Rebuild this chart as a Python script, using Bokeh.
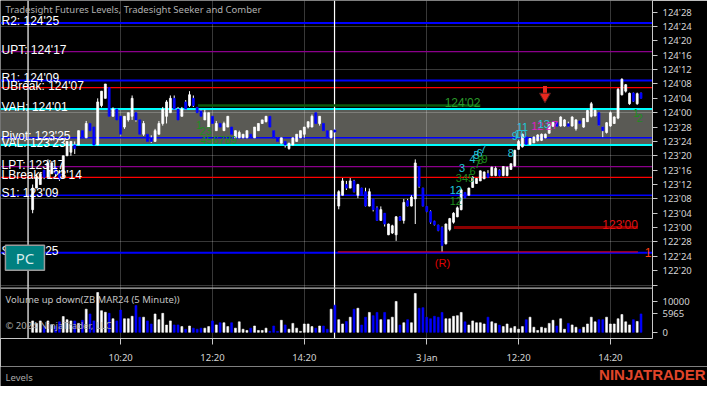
from bokeh.plotting import figure
from bokeh.layouts import column
from bokeh.models import Range1d, FixedTicker, Span, BoxAnnotation, Label, ColumnDataSource
from bokeh.embed import file_html
from bokeh.resources import INLINE
from bokeh.core.properties import value

# ---------------- data ----------------
# bar index (5-minute bars, two sessions), prices given in 32nds above 122'00
OPEN_32 = [
 37, 43, 44, 48, 46, 47, 49, 47, 46, 52,
 53, 55, 55, 59, 57, 61, 60, 55, 66, 68,
 71, 63, 65, 63, 60, 62, 63, 64, 62, 58,
 58, 57, 56, 58, 61, 63, 64, 68, 65, 63,
 67, 66, 68, 65.5, 64.5, 62, 60, 63, 59, 61,
 59, 60, 60, 57, 57, 57, 57, 58, 57, 59,
 61, 61.5, 63, 59, 57, 55.5, 56, 54, 55, 56,
 57, 58, 60, 60, 64, 61, 61, 59, 57, 59.2,
 38, 41, 44, 43, 45, 41, 43, 42, 38, 40,
 37.5, 34, 36, 30, 30.5, 30, 35, 34, 39.5, 38,
 40, 49, 43, 37.9, 36.5, 33.8, 32.7, 32, 27.5, 31.5,
 33.5, 35, 37, 41.8, 41, 43.2, 44.3, 45, 45.6, 47,
 46.5, 46.5, 48, 46.5, 46.5, 48.2, 49.2, 53.8, 54.5, 57.3,
 55.2, 55.6, 56.2, 56.3, 57, 58.3, 60.2, 61.3, 60.3, 60.3,
 60.9, 60.3, 59.5, 61.7, 60, 61.5, 63, 63.1, 64, 60,
 58.5, 60.3, 61, 62.5, 69, 70, 66.5, 69.5, 66.5, 69.5,
]
HIGH_32 = [
 44, 47, 47.5, 48, 51, 50.5, 49, 48, 52, 56,
 56, 56, 59, 59, 61.7, 61, 60, 68, 70, 72,
 71, 65.5, 65, 63, 63, 64, 68.8, 64, 62, 61.7,
 58, 57.7, 59.5, 61.7, 65.6, 67.5, 68.8, 68.8, 65.6, 65.6,
 67.5, 70, 68.8, 65.6, 64.8, 64.8, 64, 63, 61.7, 61,
 61.5, 63, 60, 59, 59, 58, 59, 58, 60, 61,
 62, 63, 63, 59, 57, 57, 56, 55.6, 57, 58,
 59, 60, 61.5, 63.5, 64, 63, 61, 59, 59, 59.5,
 42.4, 45.8, 45, 45.8, 45.3, 44.2, 43.1, 43.1, 42.9, 40,
 37.9, 37.9, 36, 33.1, 32.8, 35.2, 35.2, 40, 40, 41,
 51, 49, 43.1, 37.9, 36.8, 33.9, 32.8, 32.3, 33.1, 34.7,
 36.3, 37.9, 42.9, 41.8, 43.1, 46.3, 45.8, 47.9, 47.6, 48,
 49, 49, 48.2, 49, 49, 49.8, 53.7, 56.4, 58.2, 57.4,
 56.9, 57.4, 58, 58.2, 58.2, 60.9, 61.4, 61.4, 63, 62.2,
 61.5, 63, 62.2, 61.7, 62.5, 64.8, 67, 64.8, 64, 60.1,
 61.4, 64.3, 63, 70.9, 73.6, 72, 69.6, 69.6, 69.6, 69.6,
]
LOW_32 = [
 36, 43, 44, 45.5, 46, 47, 46, 45, 46, 52,
 52, 52.5, 55, 57, 57, 59, 55, 55, 65.5, 68,
 63, 63, 62, 57.7, 59.5, 61.5, 62, 61.5, 58, 57.5,
 56, 55.6, 56, 58, 60.4, 61, 64, 64.8, 62, 63,
 64.8, 65.6, 65.6, 64, 63, 62, 60, 60.9, 59, 60,
 59, 60, 58, 57, 57, 57, 57, 57, 57, 59,
 61, 61.3, 60, 57, 56, 55.5, 54.3, 53.7, 55, 56,
 57, 57, 59.6, 60, 61, 60.4, 59, 57, 57, 58.3,
 37.1, 41, 42.5, 43, 41.8, 40.2, 41, 37.9, 37.9, 36.5,
 33.9, 33.9, 32.3, 29.9, 30.2, 28.3, 33.9, 33.1, 37.9, 37.9,
 33, 43.1, 37.9, 36.3, 33.1, 32.6, 31, 25.2, 27.3, 31,
 33.1, 34.9, 36.8, 40.2, 41, 43.1, 44.2, 45, 45.5, 45.8,
 46.3, 46.3, 46.3, 46.3, 46.3, 48.2, 49, 53.7, 54.3, 55.1,
 55.1, 55.6, 56, 56.1, 56.9, 58.2, 60.1, 60.1, 60.1, 60.1,
 60.1, 60.1, 59, 60.9, 59.8, 61.4, 62.7, 63, 60.3, 57.2,
 58.2, 60.1, 60.9, 62.2, 68.8, 69.6, 66.2, 67, 66.2, 68,
]
CLOSE_32 = [
 43, 46, 47, 46, 50, 50, 47, 45.5, 52, 56,
 56, 54, 59, 57, 61, 59, 55, 67, 70, 72,
 63, 65, 62, 58, 63, 64, 68, 62, 58, 61,
 56, 56, 59, 61, 65, 67, 68, 65, 62, 65,
 65, 69, 66, 64, 63, 64, 64, 61, 61, 60,
 61, 63, 58, 59, 58.5, 58, 59, 57, 60, 61,
 62, 63, 60, 57, 56, 57, 55, 55.5, 57, 58,
 59, 60, 61.5, 63, 61, 63, 59, 57, 59, 58.6,
 42, 45, 43, 45, 42, 44, 41, 38, 42, 37,
 34, 37, 33, 33, 32.5, 35, 34, 39, 38, 40.5,
 50, 43.5, 38, 36.5, 33.5, 32.8, 31.2, 27, 33, 34.5,
 36, 37.5, 42.5, 40.3, 43, 46, 45.7, 47.8, 47.5, 46,
 48.8, 48.5, 46.5, 49, 48.8, 49.8, 53.5, 56, 58, 55.2,
 56.8, 57.2, 57.8, 58, 58, 60.7, 61.3, 60.2, 62.8, 62,
 60.2, 62.8, 62, 61, 62.4, 64.6, 66.5, 64.7, 60.5, 59,
 61.2, 64, 62.8, 70.5, 73.3, 71.8, 69.4, 67.2, 69.3, 68,
]
VOLUME = [
 3700, 2900, 3700, 2000, 3700, 2400, 2000, 3400, 5100, 4100,
 3700, 3700, 2900, 3900, 7500, 5950, 3700, 12900, 7000, 6500,
 6150, 4400, 3700, 7200, 4400, 4400, 5200, 8700, 4900, 4900,
 3700, 2700, 5950, 4100, 6150, 2350, 3700, 2400, 2400, 1850,
 1000, 2050, 1350, 1000, 1350, 1350, 1850, 3700, 2400, 3100,
 3100, 1850, 3100, 1350, 3400, 1000, 600, 1350, 2050, 600,
 600, 1350, 300, 2050, 300, 3900, 2400, 1000, 2900, 1350,
 300, 2700, 2700, 1850, 1350, 2050, 2050, 1000, 7500, 8800,
 4100, 2700, 3500, 4900, 7500, 7800, 2350, 4900, 6450, 5400,
 6450, 4100, 6450, 4100, 4900, 10000, 2350, 3100, 4100, 3100,
 12600, 7800, 8000, 4900, 4400, 5200, 4900, 6450, 4400, 4400,
 5200, 5400, 6450, 3400, 2350, 3700, 3100, 3100, 2700, 4900,
 3400, 2900, 2350, 1850, 2700, 1350, 1850, 1000, 1850, 4100,
 4900, 1650, 600, 1650, 1350, 2900, 3900, 2050, 4400, 1000,
 2900, 2400, 1650, 1000, 1650, 2700, 4900, 3400, 4100, 4100,
 4900, 2700, 2700, 4400, 5750, 3400, 2400, 4100, 3500, 5965,
]
BAR_INDEX = list(range(len(CLOSE_32)))

TIME_TICK_INDEX = [23, 47, 71, 103, 127, 151]
TIME_TICK_LABELS = ["10:20", "12:20", "14:20", "3 Jan", "12:20", "14:20"]
SESSION_BREAK_INDEX = [-1.2, 78.9]

PRICE_TICK_LABELS = ["124'28", "124'24", "124'20", "124'16", "124'12", "124'08", "124'04",
                     "124'00", "123'28", "123'24", "123'20", "123'16", "123'12", "123'08",
                     "123'04", "123'00", "122'28", "122'24", "122'20", "122'16"]
PRICE_TICK_HIDDEN = ["122'16"]
GRID_PRICE_LABELS = ["124'24", "124'12", "124'00", "123'20", "123'08", "122'28", "122'16"]
VOLUME_TICKS = [0, 10000]

LEVEL_NAMES = ["R2", "UPT", "R1", "UBreak", "VAH", "Pivot", "VAL", "LPT", "LBreak", "S1", "S2"]
LEVEL_PRICES = ["124'25", "124'17", "124'09", "124'07", "124'01", "123'25", "123'23",
                "123'17", "123'14", "123'09", "122'25"]
LEVEL_COLORS = ["#0000ff", "#8b008b", "#0000ff", "#ff0000", "#00ffff", "#0000ff", "#00ffff",
                "#8b008b", "#ff0000", "#0000ff", "#0000ff"]
LEVEL_WIDTHS = [2, 1.2, 2, 1.2, 2, 1.5, 2, 1.2, 1.2, 1.5, 2]

# Seeker / Comber counts: text, bar index, price (32nds), color
COUNT_TEXT = ["3", "4", "5", "6", "7", "6", "7", "8", "9", "345", "12", "12",
              "8", "9", "10", "11", "12", "13", "2", "7", "1", "2", "1", "23", "456789"]
COUNT_BAR = [112.2, 115.0, 116.0, 116.8, 117.8, 115.0, 116.3, 117.0, 118.1, 113.0, 110.6, 110.6,
             125.0, 126.0, 127.5, 128.0, 131.9, 133.6, 134.9, 136.5, 157.7, 158.7, 43.5, 45.2, 48.6]
COUNT_PRICE_32 = [48.7, 51.1, 52.1, 52.9, 54.0, 47.9, 49.8, 50.8, 51.1, 45.8, 42.4, 39.4,
                  52.9, 57.4, 58.2, 60.1, 60.3, 60.9, 60.3, 60.6, 64.0, 62.5, 60.6, 59.0, 56.4]
CYAN, GREEN, MAGENTA = "#22c8dc", "#1e8c1e", "#e020c8"
COUNT_COLOR = [CYAN, CYAN, CYAN, CYAN, CYAN, GREEN, GREEN, GREEN, GREEN, GREEN, CYAN, GREEN,
               CYAN, CYAN, CYAN, CYAN, MAGENTA, CYAN, MAGENTA, MAGENTA, GREEN, GREEN, GREEN, GREEN, GREEN]

SEEKER_LEVEL = "124'02"
SEEKER_BARS = [43.2, 117.0]
TARGET_LEVEL = "123'00"
TARGET_BARS = [110.1, 158.2]
SIGNAL_BAR = 107.1
ARROW_BAR = 133.9

# ---------------- helpers ----------------
def p32(s):
    a, b = s.split("'")
    return int(a) + int(b) / 32.0

def t2p(t):
    return 122 + t / 32.0

X0, X1 = -8.4, 162.0
Y0, Y1 = 122.0347, 124.9767
V0, V1 = -2000, 107538
REF_W, REF_H = 667.0, 356.0

def rx(xr):
    return X0 + xr * (X1 - X0) / REF_W

def ry(yr):
    return Y1 - yr * (Y1 - Y0) / REF_H

def v2p(v):
    return Y0 + (v - V0) / (V1 - V0) * (Y1 - Y0)

AX_COL = "#c8c8c8"
LAB_COL = "#d4d4d4"
W = 707
FOOT_H = 20

p = figure(width=W, height=386 - FOOT_H, x_range=Range1d(X0, X1), y_range=Range1d(Y0, Y1),
           y_axis_location="right", toolbar_location=None, output_backend="svg",
           min_border_left=0, min_border_top=0, min_border_right=55, min_border_bottom=24,
           background_fill_color="black", border_fill_color="black")
p.outline_line_color = None
p.extra_y_ranges = {"vol": Range1d(V0, V1)}

# value area box (drawn beneath grid)
p.add_layout(BoxAnnotation(bottom=p32("123'23"), top=p32("124'01"), fill_color="#5a5a55",
                           fill_alpha=1.0, line_color=None, level="image"))

# grid
p.xgrid.ticker = FixedTicker(ticks=TIME_TICK_INDEX)
p.ygrid.ticker = FixedTicker(ticks=[p32(s) for s in GRID_PRICE_LABELS])
for g in (p.xgrid[0], p.ygrid[0]):
    g.grid_line_color = "white"
    g.grid_line_alpha = 0.22
    g.grid_line_width = 1

# y axis (price ticks + volume ticks + last volume)
price_ticks = [p32(s) for s in PRICE_TICK_LABELS]
vol_marks = VOLUME_TICKS + [VOLUME[-1]]
vol_tick_pos = [round(v2p(v), 6) for v in vol_marks]
p.yaxis.ticker = FixedTicker(ticks=price_ticks + vol_tick_pos)
over = {}
for s, t in zip(PRICE_TICK_LABELS, price_ticks):
    over[t] = "" if s in PRICE_TICK_HIDDEN else s
for v, t in zip(vol_marks, vol_tick_pos):
    over[t] = str(v)
p.yaxis.major_label_overrides = over

p.xaxis.ticker = FixedTicker(ticks=TIME_TICK_INDEX)
p.xaxis.major_label_overrides = {t: s for t, s in zip(TIME_TICK_INDEX, TIME_TICK_LABELS)}

for ax in (p.xaxis[0], p.yaxis[0]):
    ax.axis_line_color = AX_COL
    ax.major_tick_line_color = AX_COL
    ax.minor_tick_line_color = None
    ax.major_tick_in = 0
    ax.major_tick_out = 5
    ax.major_label_text_color = LAB_COL
    ax.major_label_text_font = "Noto Sans"
    ax.major_label_text_font_size = "9.5px"
    ax.major_label_standoff = 5
p.xaxis[0].major_tick_out = 6
p.xaxis[0].major_label_standoff = 6

# level lines
for c, w, s in zip(LEVEL_COLORS, LEVEL_WIDTHS, LEVEL_PRICES):
    p.add_layout(Span(location=p32(s), dimension="width", line_color=c, line_width=w, level="underlay"))

# session breaks
for b in SESSION_BREAK_INDEX:
    p.add_layout(Span(location=b, dimension="height", line_color="white", line_width=1.2, level="underlay"))

# panel separator
p.add_layout(Span(location=ry(303), dimension="width", line_color="#b4b4b4", line_width=1.2))

# candles
opens = [t2p(v) for v in OPEN_32]
highs = [t2p(v) for v in HIGH_32]
lows = [t2p(v) for v in LOW_32]
closes = [t2p(v) for v in CLOSE_32]
colors = ["white" if c >= o else "#0000ff" for o, c in zip(opens, closes)]
src = ColumnDataSource(dict(x=BAR_INDEX, o=opens, h=highs, l=lows, c=closes, col=colors, vol=VOLUME))
p.segment(x0="x", y0="l", x1="x", y1="h", source=src, line_color="white", line_width=1)
p.vbar(x="x", width=0.5, bottom="o", top="c", source=src, fill_color="col", line_color="col", line_width=0.8)

# volume bars
p.vbar(x="x", width=0.5, bottom=0, top="vol", source=src, fill_color="col", line_color="col",
       line_width=0.6, y_range_name="vol")

# seeker line and target line
p.segment(x0=[SEEKER_BARS[0]], x1=[SEEKER_BARS[1]], y0=[p32(SEEKER_LEVEL)], y1=[p32(SEEKER_LEVEL)],
          line_color="#0b5a0b", line_width=2.5)
p.text(x=[SEEKER_BARS[1]], y=[p32(SEEKER_LEVEL)], text=[SEEKER_LEVEL], text_align="right",
       text_baseline="alphabetic", y_offset=-3, text_color="#2a9a2a",
       text_font=value("Liberation Sans"), text_font_size="12px")
p.segment(x0=[TARGET_BARS[0]], x1=[TARGET_BARS[1]], y0=[p32(TARGET_LEVEL)], y1=[p32(TARGET_LEVEL)],
          line_color="#8b0000", line_width=3)
p.text(x=[TARGET_BARS[1]], y=[p32(TARGET_LEVEL)], text=[TARGET_LEVEL], text_align="right",
       text_baseline="alphabetic", y_offset=-3, text_color="#e01010",
       text_font=value("Liberation Sans"), text_font_size="12px")
p.segment(x0=[rx(345)], x1=[TARGET_BARS[1]], y0=[ry(264.8)], y1=[ry(264.8)], line_color="#ff0000", line_width=1)

# reversal marker and arrow
p.text(x=[SIGNAL_BAR], y=[ry(277)], text=["(R)"], text_align="center", text_baseline="middle",
       text_color="#e00000", text_font=value("Liberation Sans"), text_font_size="11px")
p.text(x=[rx(659)], y=[ry(266)], text=["1:"], text_align="left", text_baseline="middle",
       text_color="#ff3a10", text_font=value("Liberation Sans"), text_font_size="12px")
p.segment(x0=[ARROW_BAR], x1=[ARROW_BAR], y0=[ry(90)], y1=[ry(99)], line_color="#e8281e", line_width=4)
p.scatter(x=[ARROW_BAR], y=[ry(101)], marker="inverted_triangle", size=11,
          fill_color="#e8281e", line_color="#5a2020", line_width=1)

# counts
csrc = ColumnDataSource(dict(x=COUNT_BAR, y=[t2p(v) for v in COUNT_PRICE_32], t=COUNT_TEXT, c=COUNT_COLOR))
p.text(x="x", y="y", text="t", text_color="c", source=csrc, text_align="center", text_baseline="middle",
       text_font=value("Liberation Sans"), text_font_size="11px")

# level labels
lsrc = ColumnDataSource(dict(x=[rx(1)] * len(LEVEL_NAMES), y=[p32(s) for s in LEVEL_PRICES],
                             t=[f"{n}: {s}" for n, s in zip(LEVEL_NAMES, LEVEL_PRICES)]))
p.text(x="x", y="y", text="t", source=lsrc, text_color="white", text_baseline="alphabetic", y_offset=-2,
       text_font=value("Liberation Sans"), text_font_size="12px")

# PC button
p.rect(x=[rx(25)], y=[ry(271)], width=39, height=25, width_units="screen", height_units="screen",
       fill_color="#008080", line_color="#9a9a9a", line_width=1.5)
p.text(x=[rx(25)], y=[ry(271)], text=["PC"], text_align="center", text_baseline="middle",
       text_color="#d4ecec", text_font=value("Noto Sans"), text_font_size="15px")

# titles inside the panels
p.add_layout(Label(x=rx(5), y=ry(10), text="Tradesight Futures Levels, Tradesight Seeker and Comber",
                   text_baseline="middle", text_color="#b0b0b0", text_font="Noto Sans", text_font_size="9.5px"))
p.add_layout(Label(x=rx(5), y=ry(315), text="Volume up down(ZB MAR24 (5 Minute))",
                   text_baseline="middle", text_color="#c4c4c4", text_font="Noto Sans", text_font_size="9.5px"))
p.add_layout(Label(x=rx(5), y=ry(342), text="\u00a9 2024 NinjaTrader, LLC",
                   text_baseline="middle", text_color="#a8a8a8", text_font="Noto Sans", text_font_size="9.5px"))

# footer strip (tab name and logo)
f = figure(width=W, height=FOOT_H, x_range=Range1d(0, W), y_range=Range1d(0, FOOT_H),
           toolbar_location=None, output_backend="svg", min_border=0,
           background_fill_color="black", border_fill_color="black")
f.axis.visible = False
f.grid.visible = False
f.outline_line_color = None
f.add_layout(Label(x=5, y=9, text="Levels", text_baseline="middle", text_color="#a8a8a8",
                   text_font="Noto Sans", text_font_size="9.5px"))
f.add_layout(Label(x=W - 2, y=12, text="NINJATRADER", text_align="right", text_baseline="middle",
                   text_color="#e0452a", text_font="Liberation Sans", text_font_size="15px",
                   text_font_style="bold"))

for fig in (p, f):
    if "frame_align" in fig.properties():
        fig.frame_align = False

layout = column(p, f, spacing=0)
open("out.html", "w").write(file_html(layout, INLINE))
